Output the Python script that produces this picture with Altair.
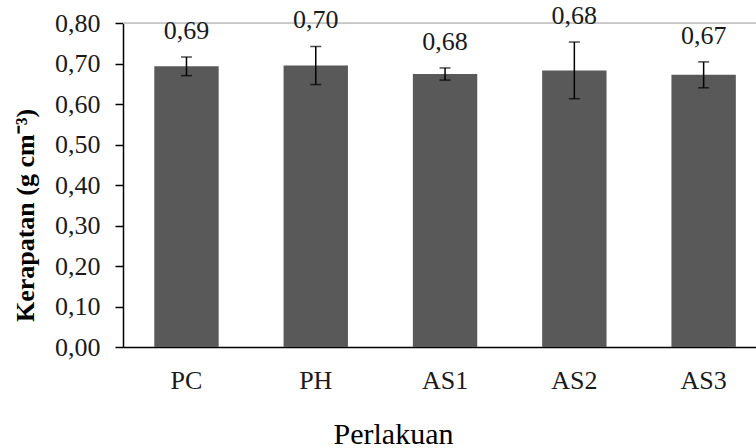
import altair as alt
import pandas as pd

categories = ["PC", "PH", "AS1", "AS2", "AS3"]
means = [0.693, 0.695, 0.674, 0.683, 0.672]
errors = [0.023, 0.047, 0.015, 0.070, 0.032]
value_labels = ["0,69", "0,70", "0,68", "0,68", "0,67"]
y_ticks = [0.0, 0.1, 0.2, 0.3, 0.4, 0.5, 0.6, 0.7, 0.8]

df = pd.DataFrame({
    "cat": categories,
    "mean": means,
    "lo": [m - e for m, e in zip(means, errors)],
    "hi": [m + e for m, e in zip(means, errors)],
    "lab": value_labels,
})

FONT = "'Liberation Serif', 'Times New Roman', Times, serif"

x_enc = alt.X(
    "cat:N",
    sort=categories,
    scale=alt.Scale(paddingInner=0.502, paddingOuter=0.199, align=0.608),
    axis=alt.Axis(
        title="Perlakuan",
        ticks=False,
        labelAngle=0,
        labelPadding=20,
        labelFont=FONT,
        labelFontSize=26,
        labelColor="#1a1a1a",
        domainColor="#000000",
        domainWidth=1.5,
        titleFont=FONT,
        titleFontSize=30,
        titleFontWeight="normal",
        titleColor="#000000",
        titleX=270,
        titleY=96,
        titleAlign="center",
        titleBaseline="alphabetic",
    ),
)

y_scale = alt.Scale(domain=[0, 0.8], nice=False)

base = alt.Chart(df)

bars = base.mark_bar(color="#595959").encode(
    x=x_enc,
    y=alt.Y(
        "mean:Q",
        scale=y_scale,
        axis=alt.Axis(
            title="Kerapatan (g cm⁻³)",
            values=y_ticks,
            labelExpr="replace(format(datum.value, '.2f'), '.', ',')",
            grid=False,
            tickSize=8,
            tickColor="#000000",
            tickWidth=1.5,
            domainColor="#000000",
            domainWidth=1.5,
            labelPadding=15,
            labelFont=FONT,
            labelFontSize=26,
            labelColor="#1a1a1a",
            titleFont=FONT,
            titleFontSize=26,
            titleFontWeight="bold",
            titleColor="#000000",
            titleAngle=270,
            titleX=-90,
            titleY=192,
            titleAlign="center",
            titleBaseline="alphabetic",
        ),
    ),
)

top_line = alt.Chart(pd.DataFrame({"v": [0.8]})).mark_rule(
    color="#bfbfbf", strokeWidth=1.5
).encode(y=alt.Y("v:Q", scale=y_scale))

err_rule = base.mark_rule(color="#000000", strokeWidth=1.5).encode(
    x=alt.X("cat:N", sort=categories),
    y=alt.Y("lo:Q", scale=y_scale),
    y2="hi:Q",
)

cap_hi = base.mark_tick(color="#000000", thickness=1.5, size=11, orient="horizontal").encode(
    x=alt.X("cat:N", sort=categories),
    y=alt.Y("hi:Q", scale=y_scale),
)
cap_lo = base.mark_tick(color="#000000", thickness=1.5, size=11, orient="horizontal").encode(
    x=alt.X("cat:N", sort=categories),
    y=alt.Y("lo:Q", scale=y_scale),
)

labels = base.mark_text(
    font=FONT, fontSize=26, color="#1a1a1a", baseline="alphabetic", dy=-18
).encode(
    x=alt.X("cat:N", sort=categories),
    y=alt.Y("hi:Q", scale=y_scale),
    text="lab:N",
)

chart = alt.layer(top_line, bars, err_rule, cap_hi, cap_lo, labels).properties(
    width=633,
    height=324,
    autosize=alt.AutoSizeParams(type="none"),
    padding={"left": 123, "top": 23, "right": 0, "bottom": 101},
).configure_view(stroke=None).configure(background="#ffffff")

chart.save("out.html", embed_options={"renderer": "svg", "actions": False})
